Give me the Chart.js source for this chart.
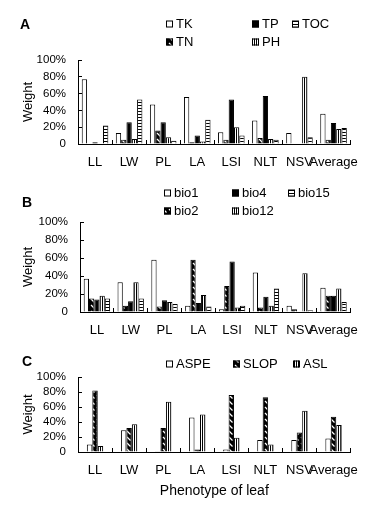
<!DOCTYPE html>
<html>
<head>
<meta charset="utf-8">
<script src="https://cdn.jsdelivr.net/npm/chart.js@4.4.0/dist/chart.umd.min.js"></script>
<style>
  body { margin: 0; background: #fff; }
  #wrap { position: relative; width: 374px; height: 510px; overflow: hidden; font-family: Arial, "Liberation Sans", sans-serif; }
  .panel { position: absolute; left: 0; width: 374px; }
  .letter { position: absolute; font-weight: bold; font-size: 14px; line-height: 14px; color: #000; }
</style>
</head>
<body>
<div id="wrap">
  <div class="panel" style="top:0;height:172px"><canvas id="chartA" width="374" height="172"></canvas></div>
  <div class="panel" style="top:172px;height:168px"><canvas id="chartB" width="374" height="168"></canvas></div>
  <div class="panel" style="top:340px;height:170px"><canvas id="chartC" width="374" height="170"></canvas></div>
  <div class="letter" style="left:20px;top:17px">A</div>
  <div class="letter" style="left:22px;top:195px">B</div>
  <div class="letter" style="left:22px;top:354px">C</div>
</div>
<script>
const categories = ['LL', 'LW', 'PL', 'LA', 'LSI', 'NLT', 'NSV', 'Average'];
const yTicks = [0, 20, 40, 60, 80, 100];

// panel A - soil
const tk  = [77, 13, 47, 56, 14, 28, 13, 36];
const tn  = [0, 5, 16, 2, 5, 7, 0, 5];
const tp  = [2, 26, 26, 10, 53, 57, 0, 25];
const ph  = [0, 6, 8, 3, 20, 6, 80, 18];
const toc = [22, 53, 4, 29, 10, 5, 8, 19];

// panel B - climate
const bio1  = [37, 33, 58, 7, 3, 44, 7, 27];
const bio2  = [15, 7, 6, 58, 29, 5, 3, 18];
const bio4  = [14, 12, 13, 10, 56, 17, 0.5, 18];
const bio12 = [18, 33, 11, 19, 5, 7, 43, 26];
const bio15 = [15, 15, 9, 6, 7, 26, 2, 11];

// panel C - topography
const aspe = [10, 29, 0.5, 46, 3.5, 16, 16, 18];
const slop = [82, 32, 32, 3.5, 76, 73, 26, 47];
const asl  = [8, 37, 67, 50, 19, 10, 55, 36];

const FONT = 'Arial, "Liberation Sans", sans-serif';
Chart.defaults.font.family = FONT;
Chart.defaults.color = '#000';

function makePattern(w, h, draw) {
  const c = document.createElement('canvas');
  c.width = w; c.height = h;
  const g = c.getContext('2d');
  g.fillStyle = '#fff';
  g.fillRect(0, 0, w, h);
  g.fillStyle = '#000';
  draw(g);
  return g.createPattern(c, 'repeat');
}

const diagFill = makePattern(6, 6, g => {
  g.fillRect(0, 0, 6, 6);
  g.strokeStyle = '#fff';
  g.lineWidth = 1.3;
  g.beginPath(); g.moveTo(1, 1); g.lineTo(4.5, 4.5); g.stroke();
});
const vertFill = makePattern(2, 1, g => g.fillRect(0, 0, 1, 1));
const horzFill = makePattern(1, 3, g => g.fillRect(0, 0, 1, 1));

function ds(label, data, fill) {
  return { label, data, backgroundColor: fill, borderColor: '#000', borderWidth: 1 };
}

// draws the legend at fixed spots, like the excel one
const legendGrid = {
  id: 'legendGrid',
  afterDraw(chart, args, opts) {
    const ctx = chart.ctx;
    ctx.save();
    ctx.font = '13px ' + FONT;
    ctx.textBaseline = 'middle';
    opts.items.forEach(it => {
      const d = chart.data.datasets[it.i];
      ctx.fillStyle = d.backgroundColor;
      ctx.fillRect(it.x, it.y - 3.5, 7, 7);
      ctx.strokeStyle = '#000';
      ctx.lineWidth = 1;
      ctx.strokeRect(it.x + 0.5, it.y - 3, 6, 6);
      ctx.fillStyle = '#000';
      ctx.fillText(d.label, it.x + 10, it.y + 0.5);
    });
    ctx.restore();
  }
};

function panelOptions(cfg) {
  return {
    responsive: false,
    animation: false,
    devicePixelRatio: 1,
    layout: { padding: { top: cfg.top, right: 22, bottom: 0, left: 0 } },
    datasets: { bar: { categoryPercentage: cfg.catPct, barPercentage: 1 } },
    plugins: {
      legend: { display: false },
      tooltip: { enabled: false },
      legendGrid: { items: cfg.legend }
    },
    scales: {
      x: {
        grid: { offset: true, drawOnChartArea: false, tickLength: -4, color: '#000' },
        border: { display: true, color: '#000', width: 1 },
        ticks: { font: { size: 13 }, padding: 15, maxRotation: 0, autoSkip: false },
        title: cfg.xTitle
          ? { display: true, text: cfg.xTitle, font: { size: 14 }, padding: { top: 0, bottom: 10 } }
          : { display: false },
        afterFit: s => { s.height = cfg.xHeight; }
      },
      y: {
        min: 0,
        max: 100,
        afterBuildTicks: s => { s.ticks = yTicks.map(v => ({ value: v })); },
        ticks: { font: { size: 11.5 }, padding: 16, autoSkip: false, callback: v => v === 0 ? '0' : v + '%' },
        grid: { drawOnChartArea: false, tickLength: -4, color: '#000' },
        border: { display: true, color: '#000', width: 1 },
        title: { display: true, text: 'Weight', font: { size: 13 }, padding: { top: 21, bottom: 0 } },
        afterFit: s => { s.width = cfg.yWidth; }
      }
    }
  };
}

new Chart(document.getElementById('chartA'), {
  type: 'bar',
  plugins: [legendGrid],
  data: {
    labels: categories,
    datasets: [
      ds('TK', tk, '#fff'),
      ds('TN', tn, diagFill),
      ds('TP', tp, '#000'),
      ds('PH', ph, vertFill),
      ds('TOC', toc, horzFill)
    ]
  },
  options: panelOptions({
    top: 60, xHeight: 28, yWidth: 78, catPct: 0.78,
    legend: [
      { i: 0, x: 166, y: 24 }, { i: 2, x: 252, y: 24 }, { i: 4, x: 292, y: 24 },
      { i: 1, x: 166, y: 42 }, { i: 3, x: 252, y: 42 }
    ]
  })
});

new Chart(document.getElementById('chartB'), {
  type: 'bar',
  plugins: [legendGrid],
  data: {
    labels: categories,
    datasets: [
      ds('bio1', bio1, '#fff'),
      ds('bio2', bio2, diagFill),
      ds('bio4', bio4, '#000'),
      ds('bio12', bio12, vertFill),
      ds('bio15', bio15, horzFill)
    ]
  },
  options: panelOptions({
    top: 50, xHeight: 28, yWidth: 80, catPct: 0.78,
    legend: [
      { i: 0, x: 164, y: 21 }, { i: 2, x: 232, y: 21 }, { i: 4, x: 288, y: 21 },
      { i: 1, x: 164, y: 39 }, { i: 3, x: 232, y: 39 }
    ]
  })
});

new Chart(document.getElementById('chartC'), {
  type: 'bar',
  plugins: [legendGrid],
  data: {
    labels: categories,
    datasets: [
      ds('ASPE', aspe, '#fff'),
      ds('SLOP', slop, diagFill),
      ds('ASL', asl, vertFill)
    ]
  },
  options: panelOptions({
    top: 37, xHeight: 58, yWidth: 78, catPct: 0.48, xTitle: 'Phenotype of leaf',
    legend: [
      { i: 0, x: 166, y: 24 }, { i: 1, x: 233, y: 24 }, { i: 2, x: 293, y: 24 }
    ]
  })
});
</script>
</body>
</html>
